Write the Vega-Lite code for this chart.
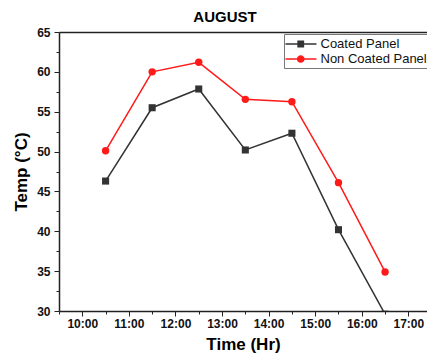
{
  "$schema": "https://vega.github.io/schema/vega-lite/v6.json",
  "autosize": {"type": "none"},
  "padding": {"left": 59, "top": 32, "right": 0, "bottom": 45},
  "width": 368,
  "height": 279,
  "background": "white",
  "title": {"text": "AUGUST", "font": "Liberation Sans", "fontSize": 15, "fontWeight": "bold", "color": "black", "anchor": "middle", "dx": -18, "offset": 1, "frame": "group"},
  "config": {
    "view": {"stroke": null},
    "axis": {"grid": false, "domain": false, "domainColor": "#222222", "domainWidth": 1.5, "tickColor": "#222222", "labelFont": "Liberation Sans", "labelFontWeight": "bold", "labelColor": "#111111", "labelFontSize": 12, "titleFont": "Liberation Sans", "titleFontWeight": "bold", "titleFontSize": 17, "titleColor": "black"},
    "legend": {"orient": "none", "legendX": 225, "legendY": 2, "title": null, "strokeColor": "#777777", "padding": 2, "fillColor": "white", "symbolSize": 240, "symbolStrokeWidth": 0, "symbolOpacity": 1, "labelOffset": 18.5, "labelFont": "Liberation Sans", "labelFontSize": 13, "labelColor": "#111111", "labelLimit": 300, "rowPadding": 0}
  },
  "resolve": {"axis": {"x": "independent", "y": "independent"}},
  "data": {"values": [
    {"hour": 10.5, "series": "Coated Panel", "temp": 46.3},
    {"hour": 11.5, "series": "Coated Panel", "temp": 55.5},
    {"hour": 12.5, "series": "Coated Panel", "temp": 57.85},
    {"hour": 13.5, "series": "Coated Panel", "temp": 50.2},
    {"hour": 14.5, "series": "Coated Panel", "temp": 52.3},
    {"hour": 15.5, "series": "Coated Panel", "temp": 40.2},
    {"hour": 16.5, "series": "Coated Panel", "temp": 29.6},
    {"hour": 10.5, "series": "Non Coated Panel", "temp": 50.1},
    {"hour": 11.5, "series": "Non Coated Panel", "temp": 60.0},
    {"hour": 12.5, "series": "Non Coated Panel", "temp": 61.2},
    {"hour": 13.5, "series": "Non Coated Panel", "temp": 56.55},
    {"hour": 14.5, "series": "Non Coated Panel", "temp": 56.25},
    {"hour": 15.5, "series": "Non Coated Panel", "temp": 46.1},
    {"hour": 16.5, "series": "Non Coated Panel", "temp": 34.9}
  ]},
  "layer": [
    {
      "mark": {"type": "line", "strokeWidth": 1.5, "clip": true},
      "encoding": {
        "x": {"field": "hour", "type": "quantitative", "scale": {"domain": [9.5, 17.4], "nice": false, "zero": false},
          "axis": {"orient": "bottom", "domain": true, "values": [10, 11, 12, 13, 14, 15, 16, 17], "labelExpr": "floor(datum.value) + ':00'", "tickSize": 5, "labelPadding": 2, "title": "Time (Hr)", "titlePadding": 7}},
        "y": {"field": "temp", "type": "quantitative", "scale": {"domain": [30, 65], "nice": false, "zero": false},
          "axis": {"orient": "left", "domain": true, "values": [30, 35, 40, 45, 50, 55, 60, 65], "tickSize": 5, "labelPadding": 4, "title": "Temp (°C)", "titlePadding": 6}},
        "color": {"field": "series", "type": "nominal", "scale": {"domain": ["Coated Panel", "Non Coated Panel"], "range": ["#333333", "#ff1a1a"]}}
      }
    },
    {
      "transform": [{"filter": "datum.series === 'Coated Panel'"}],
      "mark": {"type": "point", "shape": "square", "filled": true, "opacity": 1, "clip": true, "size": 50},
      "encoding": {
        "x": {"field": "hour", "type": "quantitative", "axis": {"orient": "bottom", "values": [9.5, 10.5, 11.5, 12.5, 13.5, 14.5, 15.5, 16.5], "labels": false, "tickSize": 3, "title": null}},
        "y": {"field": "temp", "type": "quantitative", "axis": {"orient": "left", "values": [32.5, 37.5, 42.5, 47.5, 52.5, 57.5, 62.5], "labels": false, "tickSize": 3, "title": null}},
        "color": {"field": "series", "type": "nominal"}
      }
    },
    {
      "transform": [{"filter": "datum.series === 'Non Coated Panel'"}],
      "mark": {"type": "point", "shape": "circle", "filled": true, "opacity": 1, "clip": true, "size": 55},
      "encoding": {
        "x": {"field": "hour", "type": "quantitative", "axis": null},
        "y": {"field": "temp", "type": "quantitative", "axis": null},
        "color": {"field": "series", "type": "nominal"}
      }
    },
    {
      "mark": {"type": "point", "opacity": 0},
      "encoding": {
        "x": {"field": "hour", "type": "quantitative", "axis": {"orient": "top", "domain": true, "ticks": false, "labels": false, "title": null}}
      }
    },
    {
      "transform": [{"filter": "false"}],
      "mark": {"type": "point", "filled": true, "opacity": 1},
      "encoding": {
        "x": {"field": "hour", "type": "quantitative", "axis": null},
        "y": {"field": "temp", "type": "quantitative", "axis": null},
        "color": {"field": "series", "type": "nominal"},
        "shape": {"field": "series", "type": "nominal", "scale": {"domain": ["Coated Panel", "Non Coated Panel"], "range": ["M-1.1,-0.1H2.9V0.1H-1.1Z M0.43,-0.44H1.31V0.44H0.43Z", "M-1.1,-0.1H2.9V0.1H-1.1Z M0.37,0A0.5,0.5 0 1,1 1.37,0A0.5,0.5 0 1,1 0.37,0Z"]}}
      }
    }
  ]
}
